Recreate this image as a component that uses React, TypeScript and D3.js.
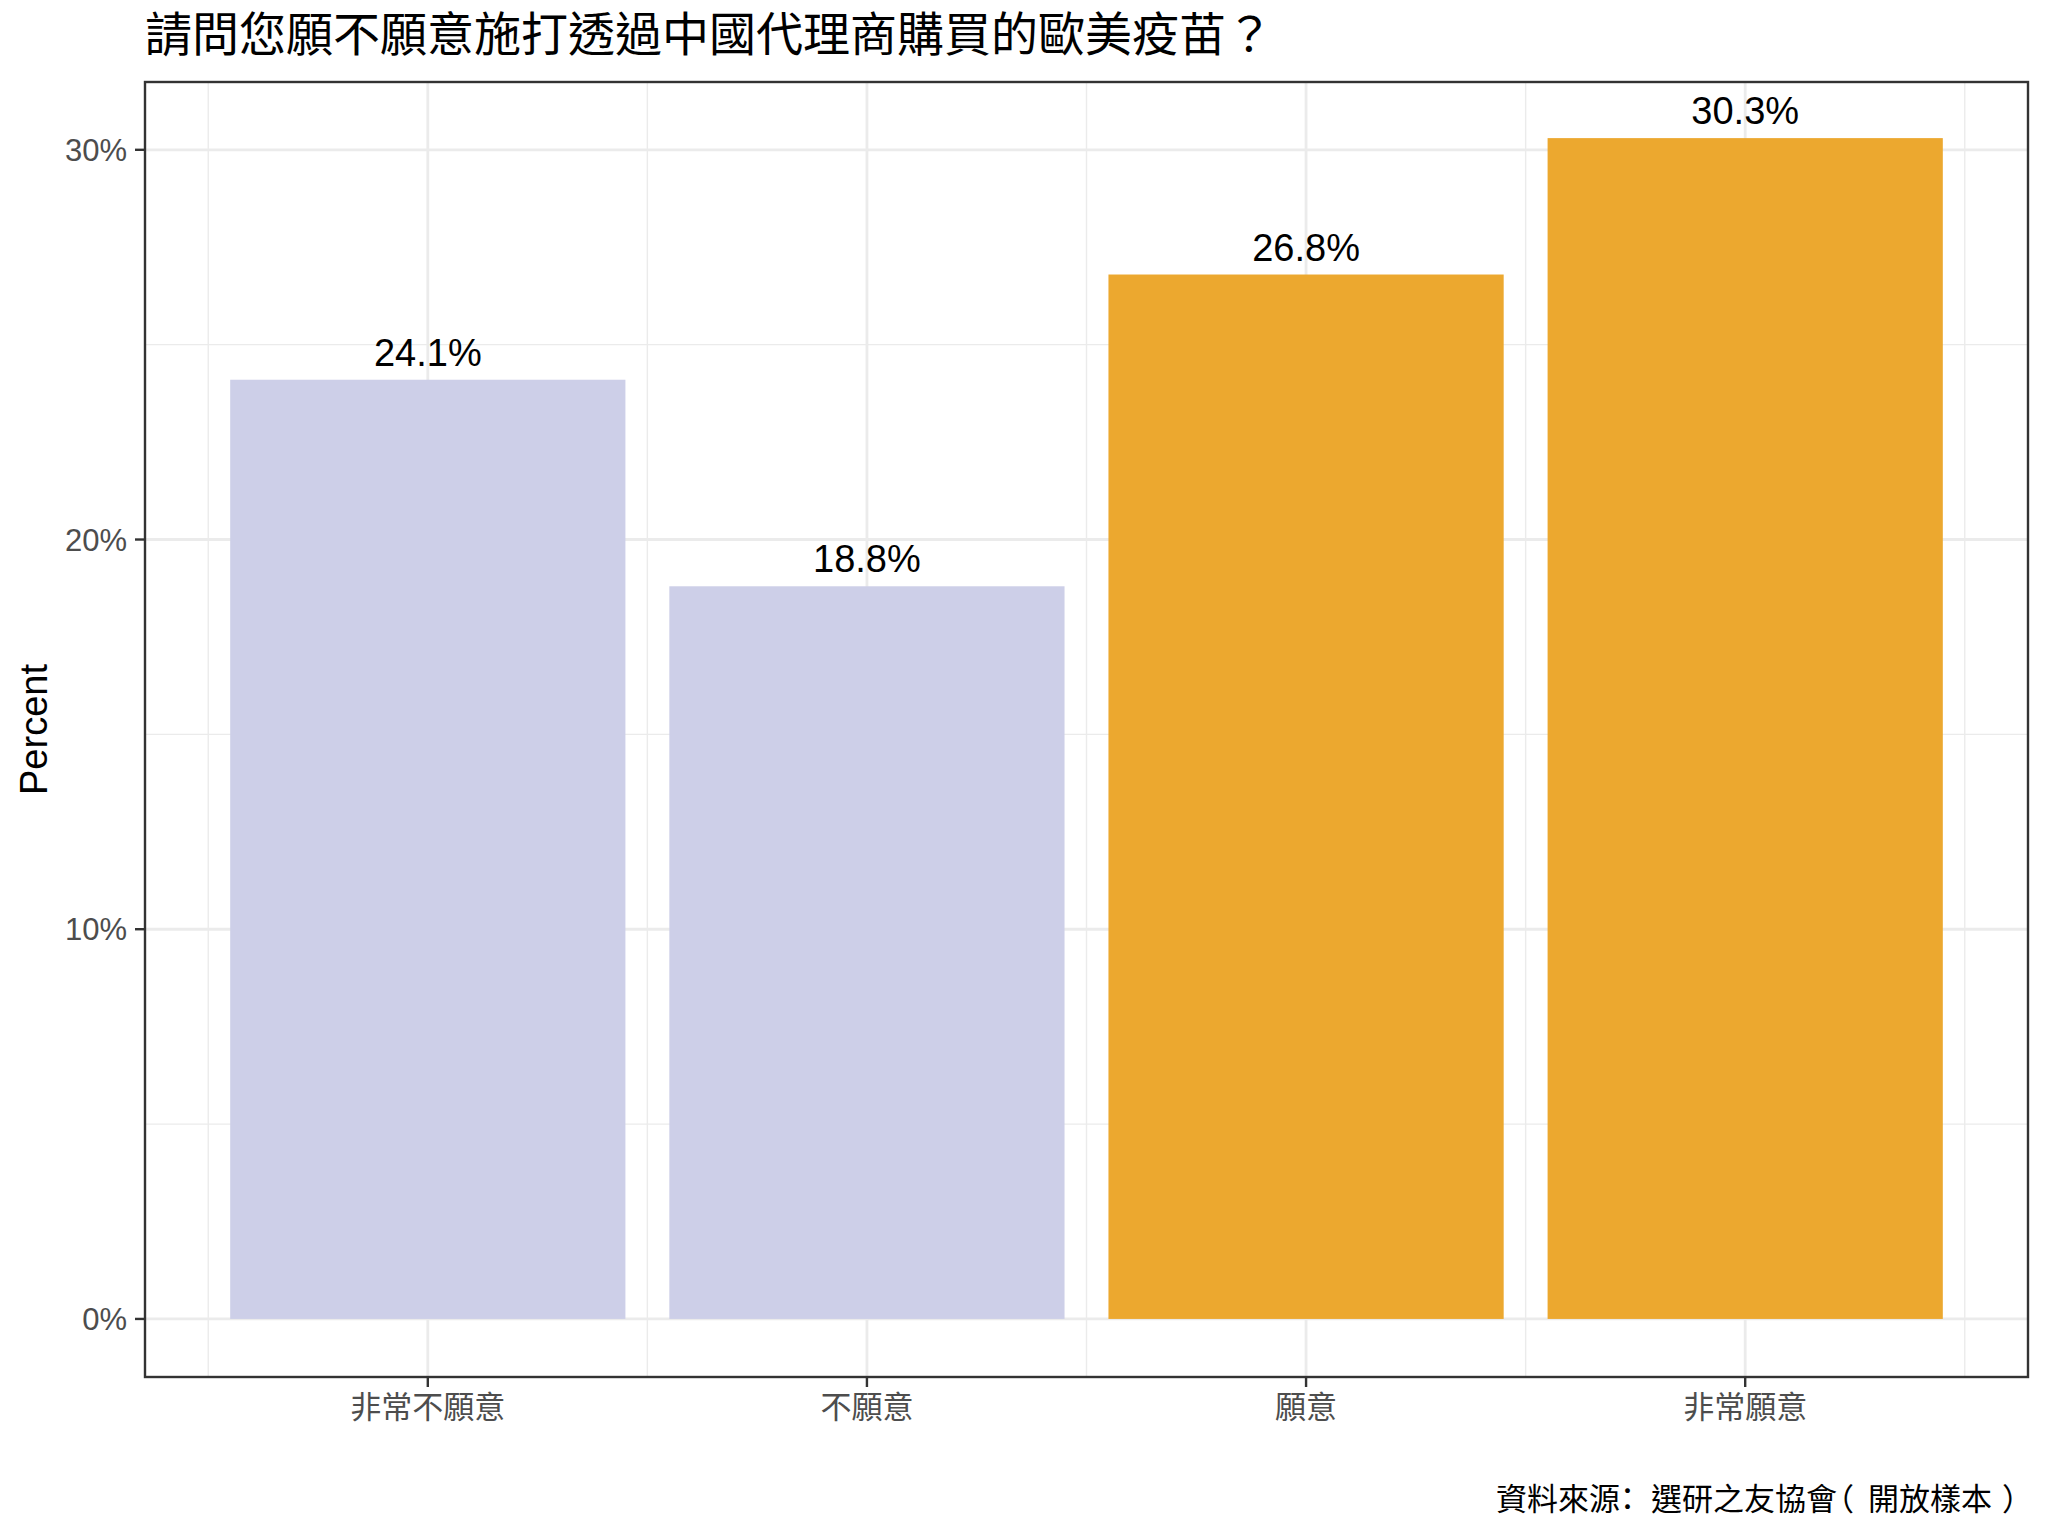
import React, { useEffect } from "react";
import * as d3 from "d3";

const categories = ["非常不願意", "不願意", "願意", "非常願意"];
const percents = [24.1, 18.8, 26.8, 30.3];
const groups = ["neg", "neg", "pos", "pos"];
const yMajorTicks = [0, 10, 20, 30];
const yMinorTicks = [5, 15, 25];
const titleText = "請問您願不願意施打透過中國代理商購買的歐美疫苗？";
const captionText = "資料來源：選研之友協會（開放樣本）";
// per-character nudges so the full-width punctuation sits like the reference
const captionDx = [0, 0, 0, 0, -8, 8, 0, 0, 0, 0, 0, -14, 14, 0, 0, 0, 10];
const yAxisTitle = "Percent";

const W = 2048;
const H = 1536;
const panel = { left: 145, right: 2028, top: 82, bottom: 1377 };
const FONT = "'Liberation Sans', Arial, 'Noto Sans CJK TC', sans-serif";
const CJK_STYLE: any = { textSpacingTrim: "space-all", fontKerning: "none" };

export default function App() {
  useEffect(() => {
    document.body.style.margin = "0";
  }, []);

  const x = d3.scaleLinear().domain([0.356, 4.644]).range([panel.left, panel.right]);
  const y = d3.scaleLinear().domain([-1.49, 31.74]).range([panel.bottom, panel.top]);
  const color = d3.scaleOrdinal<string, string>().domain(["neg", "pos"]).range(["#CDCFE8", "#ECA82F"]);
  const barHalf = (x(1.45) - x(0.55)) / 2;
  const xMinor = d3.range(0.5, categories.length + 1, 1);
  const fmt = (v: number) => `${v}%`;

  return (
    <svg width={W} height={H} style={{ display: "block", position: "absolute", left: 0, top: 0, background: "#fff" }} fontFamily={FONT}>
      <rect x={0} y={0} width={W} height={H} fill="#ffffff" />
      {yMinorTicks.map((t) => (
        <line key={"ym" + t} x1={panel.left} x2={panel.right} y1={y(t)} y2={y(t)} stroke="#EBEBEB" strokeWidth={1.4} />
      ))}
      {xMinor.map((t) => (
        <line key={"xm" + t} x1={x(t)} x2={x(t)} y1={panel.top} y2={panel.bottom} stroke="#EBEBEB" strokeWidth={1.4} />
      ))}
      {yMajorTicks.map((t) => (
        <line key={"yM" + t} x1={panel.left} x2={panel.right} y1={y(t)} y2={y(t)} stroke="#EBEBEB" strokeWidth={2.8} />
      ))}
      {categories.map((c, i) => (
        <line key={"xM" + c} x1={x(i + 1)} x2={x(i + 1)} y1={panel.top} y2={panel.bottom} stroke="#EBEBEB" strokeWidth={2.8} />
      ))}
      {categories.map((c, i) => (
        <rect
          key={"bar" + c}
          x={x(i + 1) - barHalf}
          width={barHalf * 2}
          y={y(percents[i])}
          height={y(0) - y(percents[i])}
          fill={color(groups[i])}
        />
      ))}
      {categories.map((c, i) => (
        <text key={"lab" + c} x={x(i + 1)} y={y(percents[i]) - 14} textAnchor="middle" fontSize={38} fill="#000">
          {fmt(percents[i])}
        </text>
      ))}
      <rect
        x={panel.left}
        y={panel.top}
        width={panel.right - panel.left}
        height={panel.bottom - panel.top}
        fill="none"
        stroke="#333333"
        strokeWidth={2.4}
      />
      {yMajorTicks.map((t) => (
        <g key={"yt" + t}>
          <line x1={panel.left - 10} x2={panel.left} y1={y(t)} y2={y(t)} stroke="#333333" strokeWidth={2.4} />
          <text x={panel.left - 18} y={y(t)} dy="0.36em" textAnchor="end" fontSize={31} fill="#4D4D4D">
            {fmt(t)}
          </text>
        </g>
      ))}
      {categories.map((c, i) => (
        <g key={"xt" + c}>
          <line x1={x(i + 1)} x2={x(i + 1)} y1={panel.bottom} y2={panel.bottom + 10} stroke="#333333" strokeWidth={2.4} />
          <text x={x(i + 1)} y={panel.bottom + 41} textAnchor="middle" fontSize={31} fill="#4D4D4D">
            {c}
          </text>
        </g>
      ))}
      <text transform={`translate(47, ${(panel.top + panel.bottom) / 2}) rotate(-90)`} textAnchor="middle" fontSize={38} fill="#000">
        {yAxisTitle}
      </text>
      <text x={panel.left} y={51} fontSize={47} fill="#000" style={CJK_STYLE}>
        {titleText}
      </text>
      <text x={1496} y={1510} dx={captionDx.join(" ")} fontSize={31} fill="#000" style={CJK_STYLE}>
        {captionText}
      </text>
    </svg>
  );
}
